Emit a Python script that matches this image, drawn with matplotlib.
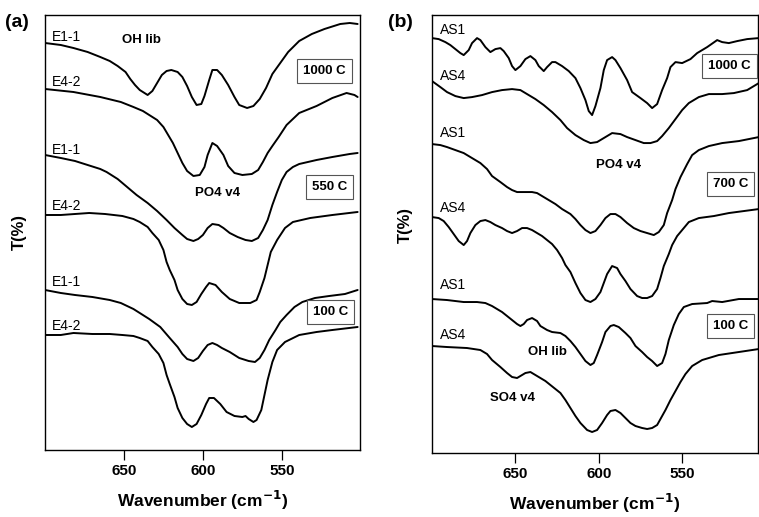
import matplotlib
matplotlib.use("Agg")
import matplotlib.pyplot as plt

plt.rcParams['font.family'] = ['Liberation Sans', 'DejaVu Sans']

# ---- panel (a): E1-1 / E4-2 at 1000, 550, 100 C  (T in arbitrary offset units)
a1_wn = [700, 690, 682, 673, 665, 659, 654, 649, 646, 643, 640, 635, 632, 629, 626, 623, 620,
         616, 613, 610, 607, 604, 601, 599, 596, 594, 591, 588, 584, 580, 577, 572, 568, 564,
         560, 556, 551, 546, 539, 531, 523, 513, 507, 502]
a1_t = [417, 415, 412, 408, 403, 399, 394, 388, 381, 375, 370, 365, 369, 377, 385, 389, 390,
        388, 383, 374, 363, 355, 356, 364, 380, 390, 390, 385, 375, 363, 355, 352, 354, 361,
        372, 386, 397, 408, 419, 426, 431, 436, 437, 436]

a2_wn = [700, 682, 665, 652, 644, 638, 634, 629, 625, 622, 619, 616, 613, 610, 606, 602, 599,
         597, 594, 591, 587, 584, 580, 575, 569, 565, 562, 559, 556, 552, 547, 539, 528, 518,
         509, 504, 502]
a2_t = [371, 368, 363, 358, 353, 349, 345, 340, 333, 325, 317, 307, 297, 289, 284, 285, 293,
        305, 317, 314, 305, 294, 287, 285, 286, 290, 298, 307, 314, 323, 335, 347, 354, 362,
        367, 365, 363]

a3_wn = [700, 690, 681, 673, 665, 661, 654, 648, 642, 635, 629, 623, 618, 613, 610, 606, 603,
         600, 597, 594, 590, 587, 583, 578, 573, 569, 565, 562, 559, 556, 553, 550, 547, 543,
         539, 528, 518, 507, 502]
a3_t = [305, 302, 299, 295, 291, 288, 281, 273, 265, 257, 249, 240, 232, 225, 221, 219, 221,
        225, 232, 236, 235, 232, 227, 223, 220, 219, 222, 230, 240, 255, 268, 280, 288, 293,
        296, 300, 303, 306, 307]

a4_wn = [700, 690, 681, 672, 662, 651, 644, 640, 635, 632, 628, 625, 623, 621, 618, 616, 613,
         610, 607, 604, 601, 598, 596, 592, 588, 583, 577, 570, 566, 564, 561, 559, 557, 553,
         548, 543, 532, 518, 502]
a4_t = [245, 245, 246, 247, 246, 244, 241, 238, 233, 227, 220, 210, 198, 190, 180, 170, 161,
        156, 155, 158, 166, 173, 177, 175, 168, 161, 157, 157, 160, 168, 182, 195, 208, 220,
        232, 238, 242, 245, 248]

a5_wn = [700, 690, 681, 670, 659, 652, 644, 640, 634, 627, 621, 616, 613, 610, 606, 603, 600,
         597, 594, 591, 588, 583, 577, 571, 567, 564, 561, 558, 554, 551, 547, 542, 537, 529,
         520, 510, 502]
a5_t = [170, 167, 165, 163, 160, 157, 151, 147, 141, 133, 122, 113, 106, 101, 99, 102, 109,
        115, 117, 115, 112, 108, 102, 99, 98, 102, 110, 120, 130, 138, 145, 153, 158, 162,
        164, 166, 170]

a6_wn = [700, 690, 682, 670, 659, 651, 644, 640, 635, 632, 628, 625, 623, 621, 618, 616, 613,
         610, 607, 604, 601, 598, 596, 593, 589, 585, 580, 575, 573, 571, 568, 566, 563, 561,
         559, 556, 553, 548, 539, 528, 518, 502]
a6_t = [125, 125, 127, 126, 126, 125, 124, 122, 119, 113, 106, 97, 85, 76, 63, 52, 42, 36, 33,
        36, 45, 56, 62, 62, 56, 48, 44, 43, 44, 41, 38, 40, 50, 65, 80, 98, 110, 118, 125,
        128, 130, 133]

# ---- panel (b): AS1 / AS4 at 1000, 700, 100 C
b1_wn = [700, 696, 692, 689, 686, 683, 681, 678, 676, 673, 671, 668, 665, 662, 659, 657, 654,
         652, 650, 647, 644, 641, 638, 636, 633, 631, 628, 626, 622, 618, 614, 611, 608, 606,
         604, 602, 599, 597, 595, 592, 590, 587, 583, 580, 575, 571, 568, 565, 562, 559, 557,
         554, 550, 545, 541, 535, 529, 526, 522, 517, 511, 504]
b1_t = [422, 421, 418, 415, 411, 407, 405, 410, 417, 422, 420, 413, 408, 411, 412, 409, 402,
        394, 390, 394, 401, 404, 400, 394, 389, 393, 398, 398, 394, 389, 382, 372, 360, 349,
        345, 354, 372, 390, 400, 403, 400, 392, 380, 368, 362, 357, 352, 356, 370, 382, 393,
        398, 397, 401, 407, 413, 420, 418, 417, 419, 421, 422]

b2_wn = [700, 695, 691, 686, 681, 676, 670, 664, 658, 652, 647, 643, 638, 633, 628, 623, 619,
         614, 609, 605, 601, 596, 592, 587, 583, 578, 573, 569, 565, 562, 558, 554, 550, 546,
         540, 534, 526, 519, 511, 504]
b2_t = [379, 373, 368, 364, 362, 363, 365, 368, 370, 371, 370, 366, 361, 355, 348, 340, 332,
        325, 320, 317, 318, 323, 327, 326, 323, 320, 317, 317, 319, 324, 332, 341, 350, 357,
        363, 366, 366, 367, 370, 377]

b3_wn = [700, 695, 691, 686, 681, 676, 671, 667, 664, 659, 655, 652, 649, 646, 643, 640, 637,
         634, 630, 626, 622, 617, 614, 611, 608, 605, 602, 599, 596, 593, 590, 587, 583, 579,
         575, 571, 567, 564, 561, 559, 556, 554, 551, 547, 544, 540, 534, 526, 516, 504]
b3_t = [316, 315, 313, 310, 307, 302, 297, 291, 284, 278, 273, 270, 268, 268, 268, 268, 267,
        264, 260, 256, 251, 246, 241, 235, 230, 227, 229, 235, 242, 246, 246, 243, 237, 232,
        229, 227, 225, 228, 235, 247, 260, 271, 283, 296, 305, 310, 314, 317, 319, 323]

b4_wn = [700, 696, 693, 690, 687, 684, 681, 679, 677, 674, 671, 668, 665, 662, 658, 655, 652,
         649, 646, 643, 640, 637, 634, 631, 628, 625, 622, 620, 617, 614, 611, 608, 605, 602,
         599, 597, 595, 592, 589, 587, 584, 581, 577, 574, 571, 568, 565, 563, 561, 558, 556,
         553, 549, 546, 540, 531, 522, 513, 504]
b4_t = [243, 242, 239, 233, 226, 219, 215, 219, 227, 235, 239, 240, 238, 235, 232, 229, 227,
        229, 232, 232, 230, 227, 224, 220, 216, 210, 202, 195, 188, 177, 167, 160, 158, 161,
        168, 177, 186, 194, 192, 186, 179, 171, 164, 162, 162, 164, 171, 182, 194, 206, 215,
        224, 232, 238, 242, 244, 247, 249, 251]

b5_wn = [700, 691, 681, 673, 668, 664, 661, 658, 655, 652, 649, 647, 645, 643, 640, 637, 635,
         631, 628, 623, 620, 617, 614, 611, 608, 605, 603, 601, 598, 596, 593, 591, 588, 584,
         581, 578, 574, 571, 568, 565, 562, 560, 558, 555, 552, 549, 544, 535, 532, 526, 516,
         504]
b5_t = [161, 160, 158, 158, 157, 154, 151, 148, 144, 140, 136, 134, 136, 140, 142, 139, 134,
        130, 128, 127, 124, 119, 113, 106, 99, 95, 97, 105, 118, 128, 134, 135, 133, 127, 122,
        114, 108, 103, 99, 94, 97, 106, 120, 135, 146, 153, 156, 157, 159, 158, 161, 161]

b6_wn = [700, 691, 679, 671, 667, 664, 659, 655, 652, 649, 647, 644, 641, 638, 635, 632, 629,
         626, 623, 620, 617, 614, 611, 607, 604, 601, 598, 595, 593, 590, 587, 584, 581, 578,
         574, 571, 568, 565, 563, 560, 557, 554, 551, 548, 544, 538, 528, 516, 504]
b6_t = [114, 113, 112, 110, 106, 100, 93, 87, 83, 82, 84, 87, 88, 85, 82, 79, 75, 71, 67, 60,
        52, 44, 37, 30, 28, 30, 37, 45, 49, 50, 47, 42, 37, 34, 32, 31, 32, 35, 41, 50, 60, 69,
        78, 86, 94, 100, 105, 108, 111]

a_curves = [(a1_wn, a1_t), (a2_wn, a2_t), (a3_wn, a3_t), (a4_wn, a4_t), (a5_wn, a5_t), (a6_wn, a6_t)]
b_curves = [(b1_wn, b1_t), (b2_wn, b2_t), (b3_wn, b3_t), (b4_wn, b4_t), (b5_wn, b5_t), (b6_wn, b6_t)]

a_names = ["E1-1", "E4-2", "E1-1", "E4-2", "E1-1", "E4-2"]
a_name_t = [423, 378, 310, 254, 178, 134]
b_names = ["AS1", "AS4", "AS1", "AS4", "AS1", "AS4"]
b_name_t = [430, 384, 327, 252, 175, 125]

a_temps = ["1000 C", "550 C", "100 C"]
a_temp_pos = [(523, 389), (520, 273), (519, 148)]
b_temps = ["1000 C", "700 C", "100 C"]
b_temp_pos = [(521.5, 394), (521, 276), (521, 134)]

fig = plt.figure(figsize=(7.59, 5.17), dpi=100)
axa = fig.add_axes([0.0593, 0.1296, 0.415, 0.8414])
axb = fig.add_axes([0.5692, 0.1238, 0.4295, 0.847])

box = dict(boxstyle='square,pad=0.45', fc='white', ec='#555555', lw=0.8)

for ax, curves, names, name_t, temps, tpos, xr, yr in [
        (axa, a_curves, a_names, a_name_t, a_temps, a_temp_pos, (700, 500.5), (10, 445)),
        (axb, b_curves, b_names, b_name_t, b_temps, b_temp_pos, (700, 504.5), (7, 445))]:
    for wn, t in curves:
        ax.plot(wn, t, color='black', lw=1.4, solid_joinstyle='round', solid_capstyle='round')
    for nm, yt in zip(names, name_t):
        ax.text(695.5, yt, nm, fontsize=10, ha='left', va='center')
    for lab, (xw, yt) in zip(temps, tpos):
        ax.text(xw, yt, lab, fontsize=9.5, fontweight='bold', ha='center', va='center', bbox=box)
    ax.set_xlim(*xr)
    ax.set_ylim(*yr)
    ax.set_xticks([650, 600, 550])
    ax.set_yticks([])
    ax.tick_params(axis='x', direction='out', length=7, width=0.9, labelsize=11, pad=3)
    for lbl in ax.get_xticklabels():
        lbl.set_fontweight('bold')
    for s in ax.spines.values():
        s.set_linewidth(1.0)
    ax.set_xlabel(r'Wavenumber (cm$^{\mathbf{-1}}$)', fontsize=12.5, fontweight='bold', labelpad=8)
    ax.set_ylabel('T(%)', fontsize=12, fontweight='bold')

axa.yaxis.set_label_coords(-0.057, 0.5)
axb.yaxis.set_label_coords(-0.058, 0.52)

axa.text(639, 420, "OH lib", fontsize=9.5, fontweight='bold', ha='center', va='center')
axa.text(591, 267, "PO4 v4", fontsize=9.5, fontweight='bold', ha='center', va='center')
axb.text(588, 295, "PO4 v4", fontsize=9.5, fontweight='bold', ha='center', va='center')
axb.text(630.5, 108, "OH lib", fontsize=9.5, fontweight='bold', ha='center', va='center')
axb.text(651.5, 62, "SO4 v4", fontsize=9.5, fontweight='bold', ha='center', va='center')

fig.text(0.022, 0.957, "(a)", fontsize=14, fontweight='bold', ha='center', va='center')
fig.text(0.527, 0.957, "(b)", fontsize=14, fontweight='bold', ha='center', va='center')

fig.savefig("out.png", dpi=100)
